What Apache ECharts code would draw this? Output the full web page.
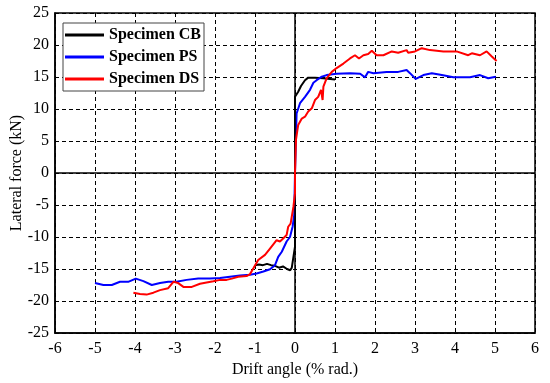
<!DOCTYPE html>
<html>
<head>
<meta charset="utf-8">
<script src="https://cdn.jsdelivr.net/npm/echarts@6/dist/echarts.min.js"></script>
<style>html,body{margin:0;padding:0;background:#fff}#c{width:550px;height:383px}</style>
</head>
<body>
<div id="c"></div>
<script>
const seriesNames = ['Specimen CB', 'Specimen PS', 'Specimen DS'];
const seriesColors = ['#000000', '#0000ff', '#ff0000'];
const xTicks = [-6, -5, -4, -3, -2, -1, 0, 1, 2, 3, 4, 5, 6];
const yTicks = [-25, -20, -15, -10, -5, 0, 5, 10, 15, 20, 25];

const cbDrift = [-1.0, -0.9, -0.8, -0.7, -0.6, -0.5, -0.4, -0.3, -0.2, -0.12, -0.08, -0.04, 0, 0, 0, 0.08, 0.15, 0.25, 0.33, 0.5, 0.7, 1.0];
const cbForce = [-14.4, -14.3, -14.4, -14.2, -14.4, -14.5, -14.8, -14.6, -15.0, -15.2, -14.8, -15.1, -11.5, 0, 11.9, 12.7, 13.6, 14.5, 14.9, 14.9, 14.8, 14.6];

const psDrift = [-5.0, -4.79, -4.58, -4.375, -4.17, -3.98, -3.79, -3.58, -3.375, -3.17, -2.96, -2.71, -2.42, -2.125, -1.875, -1.625, -1.375, -1.125, -0.96, -0.79, -0.625, -0.5, -0.42, -0.33, -0.21, -0.125, -0.06, -0.02, 0, 0.04, 0.125, 0.25, 0.375, 0.46, 0.54, 0.67, 0.79, 1.04, 1.375, 1.63, 1.75, 1.83, 1.96, 2.29, 2.58, 2.79, 2.875, 3.02, 3.21, 3.42, 3.67, 3.96, 4.375, 4.625, 4.83, 5.02];
const psForce = [-17.2, -17.5, -17.5, -17.0, -17.0, -16.5, -16.9, -17.5, -17.2, -17.0, -17.0, -16.7, -16.5, -16.5, -16.4, -16.2, -16.0, -15.9, -15.7, -15.4, -15.05, -14.4, -13.1, -12.3, -10.7, -10.0, -8.4, -6.6, 0, 9.3, 10.9, 11.9, 13.0, 14.1, 14.5, 15.05, 15.3, 15.5, 15.6, 15.5, 14.95, 15.8, 15.6, 15.8, 15.8, 16.1, 15.6, 14.7, 15.3, 15.6, 15.3, 14.95, 14.95, 15.3, 14.8, 15.05];

const dsDrift = [-4.04, -3.875, -3.71, -3.54, -3.375, -3.17, -3.04, -2.92, -2.79, -2.58, -2.375, -2.21, -2.04, -1.875, -1.71, -1.58, -1.42, -1.21, -1.125, -1.04, -0.92, -0.75, -0.625, -0.46, -0.375, -0.29, -0.21, -0.17, -0.11, -0.04, 0, 0, 0.025, 0.06, 0.08, 0.17, 0.25, 0.33, 0.42, 0.5, 0.58, 0.65, 0.69, 0.71, 0.79, 0.92, 1.04, 1.21, 1.375, 1.5, 1.6, 1.71, 1.83, 1.92, 2.04, 2.21, 2.42, 2.58, 2.79, 2.83, 3.0, 3.17, 3.375, 3.71, 4.04, 4.33, 4.42, 4.625, 4.79, 4.92, 5.04];
const dsForce = [-18.7, -18.9, -19.0, -18.7, -18.3, -18.0, -17.0, -17.2, -17.8, -17.8, -17.3, -17.1, -16.9, -16.7, -16.7, -16.5, -16.2, -16.1, -15.8, -14.9, -13.6, -12.8, -11.8, -10.5, -10.7, -10.2, -9.7, -8.4, -7.9, -5.3, -3.2, 0, 5.2, 6.7, 7.5, 8.5, 8.8, 9.6, 10.1, 11.4, 11.9, 13.0, 11.4, 13.5, 14.8, 15.8, 16.4, 17.1, 17.9, 18.4, 17.9, 18.4, 18.6, 19.1, 18.4, 18.4, 19.0, 18.8, 19.2, 18.8, 19.0, 19.5, 19.2, 19.0, 19.0, 18.4, 18.7, 18.4, 19.0, 18.2, 17.5];

const pairs = (xs, ys) => xs.map((x, i) => [x, ys[i]]);
const allData = [pairs(cbDrift, cbForce), pairs(psDrift, psForce), pairs(dsDrift, dsForce)];

const font = 'Liberation Serif';
const chart = echarts.init(document.getElementById('c'), null, {renderer: 'canvas'});

const series = allData.map((d, i) => ({
  name: seriesNames[i],
  type: 'line',
  data: d,
  symbol: 'none',
  lineStyle: {color: seriesColors[i], width: 2},
  itemStyle: {color: seriesColors[i]},
  z: 3 + i,
  animation: false
}));
series.unshift({
  name: 'zero',
  type: 'line',
  data: [],
  silent: true,
  z: 2,
  markLine: {
    silent: true,
    symbol: ['none', 'none'],
    label: {show: false},
    lineStyle: {color: '#000', type: 'solid', width: 1.5},
    data: [{xAxis: 0}, {yAxis: 0}],
    animation: false
  }
});

chart.setOption({
  animation: false,
  backgroundColor: '#fff',
  grid: {left: 55, right: 15, top: 13, bottom: 50, containLabel: false, outerBoundsMode: 'none', show: true, borderColor: '#000', borderWidth: 1.5, backgroundColor: 'transparent'},
  legend: {
    data: seriesNames,
    orient: 'vertical',
    left: 63, top: 23,
    padding: [3, 3, 3, 2],
    itemGap: 4,
    itemWidth: 39,
    itemHeight: 3,
    icon: 'rect',
    backgroundColor: '#fff',
    borderColor: '#444',
    borderWidth: 1,
    textStyle: {fontFamily: font, fontWeight: 'bold', fontSize: 16, color: '#000', lineHeight: 18}
  },
  xAxis: {
    type: 'value', min: xTicks[0], max: xTicks[xTicks.length - 1], interval: 1,
    name: 'Drift angle (% rad.)', nameLocation: 'middle', nameGap: 29, nameMoveOverlap: false,
    nameTextStyle: {fontFamily: font, fontSize: 16, color: '#000'},
    axisLine: {show: true, onZero: false, lineStyle: {color: '#000', width: 1.5}},
    axisTick: {show: false},
    axisLabel: {fontFamily: font, fontSize: 16, color: '#000', margin: 8},
    splitLine: {show: true, lineStyle: {color: '#000', type: [4, 3], width: 1}}
  },
  yAxis: {
    type: 'value', min: yTicks[0], max: yTicks[yTicks.length - 1], interval: 5,
    name: 'Lateral force (kN)', nameLocation: 'middle', nameGap: 30, nameMoveOverlap: false,
    nameTextStyle: {fontFamily: font, fontSize: 16, color: '#000'},
    axisLine: {show: true, onZero: false, lineStyle: {color: '#000', width: 1.5}},
    axisTick: {show: false},
    axisLabel: {fontFamily: font, fontSize: 16, color: '#000', margin: 6},
    splitLine: {show: true, lineStyle: {color: '#000', type: [4, 3], width: 1}}
  },
  series: series
});
</script>
</body>
</html>
